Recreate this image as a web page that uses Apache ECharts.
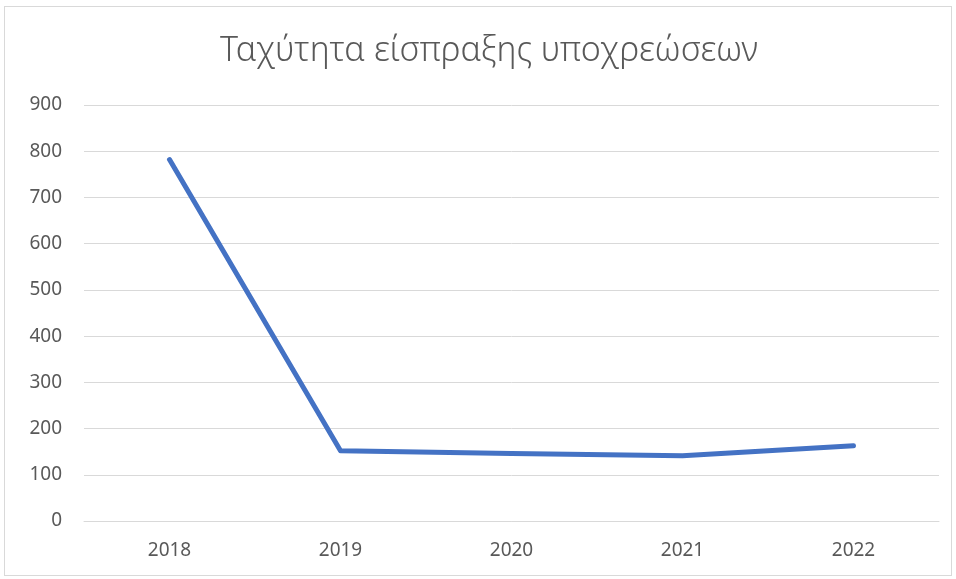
<!DOCTYPE html>
<html><head><meta charset="utf-8">
<script src="https://cdn.jsdelivr.net/npm/echarts@6/dist/echarts.min.js"></script>
<style>html,body{margin:0;padding:0;background:#fff;}#c{width:956px;height:579px;}
#b{position:absolute;left:4px;top:6px;width:948px;height:570px;border:1px solid #d9d9d9;box-sizing:border-box;pointer-events:none;}</style>
</head><body><div id="c"></div><div id="b"></div>
<script>
const titleText = 'Ταχύτητα είσπραξης υποχρεώσεων';
const years = ['2018', '2019', '2020', '2021', '2022'];
const values = [782, 152, 146, 141, 163];
const chart = echarts.init(document.getElementById('c'));
chart.setOption({
  animation: false,
  title: {text: titleText, left: 215, top: 29,
    textStyle: {fontFamily: 'Noto Sans', fontWeight: 300, fontSize: 34, color: '#595959'}},
  grid: {left: 84, right: 17, top: 105, bottom: 58},
  xAxis: {type: 'category', data: years, boundaryGap: true,
    axisLine: {lineStyle: {color: '#d9d9d9'}}, axisTick: {show: false},
    axisLabel: {color: '#595959', fontSize: 19, fontFamily: 'Noto Sans', margin: 20}},
  yAxis: {type: 'value', min: 0, max: 900, interval: 100,
    splitLine: {lineStyle: {color: '#d9d9d9'}},
    axisLabel: {color: '#595959', fontSize: 19, fontFamily: 'Noto Sans', margin: 22}},
  series: [{type: 'line', data: values, symbol: 'none',
    lineStyle: {color: '#4472C4', width: 5, cap: 'round', join: 'round'}}]
});
</script></body></html>
